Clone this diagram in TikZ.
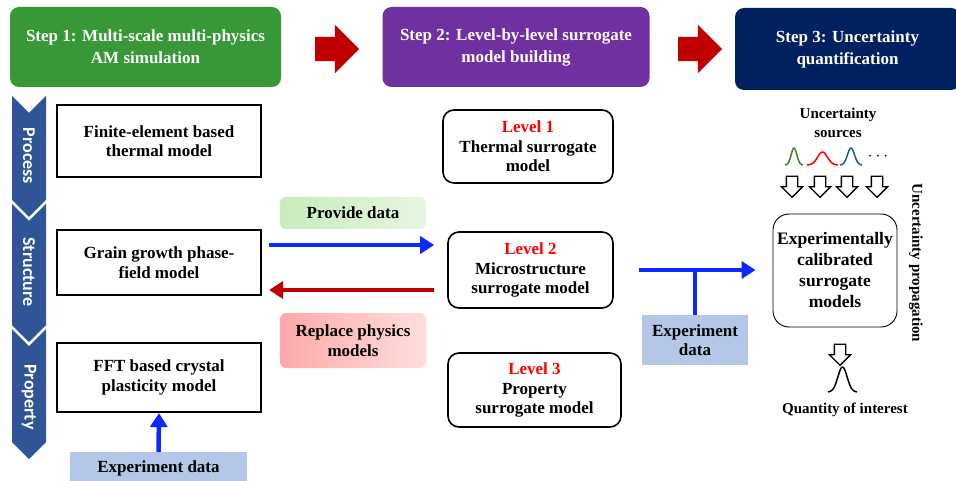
\documentclass[tikz,border=0pt]{standalone}
\usepackage{fontspec}
\setmainfont{Liberation Serif}
\newfontfamily\barfont{Carlito}
\usetikzlibrary{shapes.arrows,arrows.meta}

\definecolor{stepgreen}{RGB}{56,152,56}
\definecolor{steppurple}{RGB}{112,48,160}
\definecolor{stepnavy}{RGB}{0,32,96}
\definecolor{barblue}{RGB}{47,85,151}
\definecolor{arrowred}{RGB}{192,0,0}
\definecolor{arrowblue}{RGB}{10,40,255}
\definecolor{expblue}{RGB}{180,199,231}
\definecolor{gaussgreen}{RGB}{60,130,40}
\definecolor{gaussblue}{RGB}{40,80,170}

\begin{document}
\begin{tikzpicture}
[
	x=1pt,y=-1pt,
	every node/.style={font=\fontsize{17}{19.5}\selectfont\bfseries},
	stepbox/.style={rounded corners=9pt,text=white,align=center,minimum height=80pt,inner sep=0pt,font=\fontsize{17}{22}\selectfont\bfseries},
	physbox/.style={draw,line width=2.2pt,align=center,minimum width=204pt,inner sep=0pt},
	levelbox/.style={draw,line width=1.6pt,rounded corners=11pt,align=center,inner sep=0pt},
	bigarrow/.style={single arrow,fill=arrowred,inner sep=12pt,single arrow head extend=12pt,minimum height=44pt},
	holarrow/.style={single arrow,draw,line width=1.3pt,inner sep=5pt,single arrow head extend=5pt,minimum height=21pt,rotate=-90},
	expbox/.style={fill=expblue,align=center,inner sep=0pt},
	blueline/.style={draw=arrowblue,line width=4.5pt},
	bluearr/.style={blueline,-{Triangle[length=14pt,width=17pt]}},
	redarr/.style={draw=arrowred,line width=4.5pt,-{Triangle[length=14pt,width=17pt]}},
	smalltext/.style={font=\fontsize{15}{19}\selectfont\bfseries,align=center}
]

	\useasboundingbox (0,0) rectangle (956,481);
	\clip (0,0) rectangle (956,481);

	\node[stepbox,fill=stepgreen,minimum width=271pt] at (145.5,47) (s1) {Step 1: Multi-scale multi-physics\\AM simulation};
	\node[stepbox,fill=steppurple,minimum width=267pt] at (516,47) (s2) {Step 2: Level-by-level surrogate\\model building};
	\node[stepbox,fill=stepnavy,minimum width=225pt,minimum height=82pt] at (847.5,49) (s3) {Step 3: Uncertainty\\quantification};
	\node[bigarrow] at (331,49) (a1) {};
	\node[bigarrow] at (694,49) (a2) {};

	\foreach \t/\b/\lab/\m in {96/200/Process/156,204/325/Structure/272,329/442/Property/397}
	{
		\fill[barblue] (12,\t) -- (29,\t+17) -- (46,\t) -- (46,\b) -- (29,\b+17) -- (12,\b) -- cycle;
		\node[rotate=-90,text=white,font=\fontsize{18}{20}\selectfont\barfont\bfseries] at (29,\m) {\lab};
	}

	\node[physbox,minimum height=72pt] at (159,141) (fe) {Finite-element based\\thermal model};
	\node[physbox,minimum height=65pt] at (159,262.5) (gb) {Grain growth phase-\\field model};
	\node[physbox,minimum height=69pt] at (159,377.5) (fft) {FFT based crystal\\plasticity model};
	\node[expbox,minimum width=177pt,minimum height=33pt] at (158.5,468.5) (ed1) {Experiment data};
	\draw[bluearr] (ed1.north) -- (fft.south);

	\node[levelbox,minimum width=170pt,minimum height=73pt] at (528,146.5) (lv1) {\textcolor{red}{Level 1}\\Thermal surrogate\\model};
	\node[levelbox,minimum width=165pt,minimum height=76pt] at (530.5,270) (lv2) {\textcolor{red}{Level 2}\\Microstructure\\surrogate model};
	\node[levelbox,minimum width=173pt,minimum height=74pt] at (534.5,390) (lv3) {\textcolor{red}{Level 3}\\Property\\surrogate model};

	\node[rounded corners=5pt,left color={rgb,255:red,200;green,236;blue,188},right color={rgb,255:red,232;green,246;blue,226},minimum width=146pt,minimum height=32pt] at (353,213) (pd) {Provide data};
	\node[rounded corners=6pt,left color={rgb,255:red,255;green,168;blue,168},right color={rgb,255:red,255;green,222;blue,222},minimum width=146pt,minimum height=55pt,align=center] at (353,340.5) (rp) {Replace physics\\models};
	\draw[bluearr,shorten <=7pt,shorten >=13pt] ([yshift=17.5pt]gb.east) -- ([yshift=17.5pt]gb.east -| lv2.west);
	\draw[redarr,shorten <=13pt,shorten >=7pt] ([yshift=-27.5pt]gb.east -| lv2.west) -- ([yshift=-27.5pt]gb.east);

	\node[draw,line width=0.9pt,rounded corners=16pt,minimum width=124pt,minimum height=113pt,align=center,font=\fontsize{17.5}{21}\selectfont\bfseries] at (835,270.5) (ecb) {Experimentally\\calibrated\\surrogate\\models};
	\node[expbox,minimum width=106pt,minimum height=50pt] at (695,340) (ed2) {Experiment\\data};
	\draw[bluearr,shorten <=25pt,shorten >=17pt] (lv2.east) -- (lv2.east -| ecb.west);
	\draw[blueline] (ed2.north) -- (ed2.north |- lv2.east);

	\node[smalltext] at (838,122.5) (us) {Uncertainty\\sources};
	\draw[gaussgreen,line width=1.5pt] plot[domain=-1:1,samples=40,smooth] ({794+9*\x},{165-17*exp(-5*\x*\x)});
	\draw[red,line width=1.5pt] plot[domain=-1:1,samples=40,smooth] ({822.5+15.5*\x},{165-13*exp(-5*\x*\x)});
	\draw[gaussblue,line width=1.5pt] plot[domain=-1:1,samples=40,smooth] ({851+11*\x},{165-17*exp(-5*\x*\x)});
	\node at (878,157) (dots) {$\cdots$};
	\foreach \p in {792,820,847,877}
		\node[holarrow] at (\p,184) (h\p) {};
	\node[holarrow] at (840,352) (hq) {};
	\draw[line width=1.5pt] plot[domain=-1:1,samples=40,smooth] ({842.5+14.5*\x},{392-25*exp(-5*\x*\x)});
	\node[smalltext] at (845,410) (qi) {Quantity of interest};
	\node[smalltext,rotate=-90] at (916,263) (up) {Uncertainty propagation};

\end{tikzpicture}
\end{document}
